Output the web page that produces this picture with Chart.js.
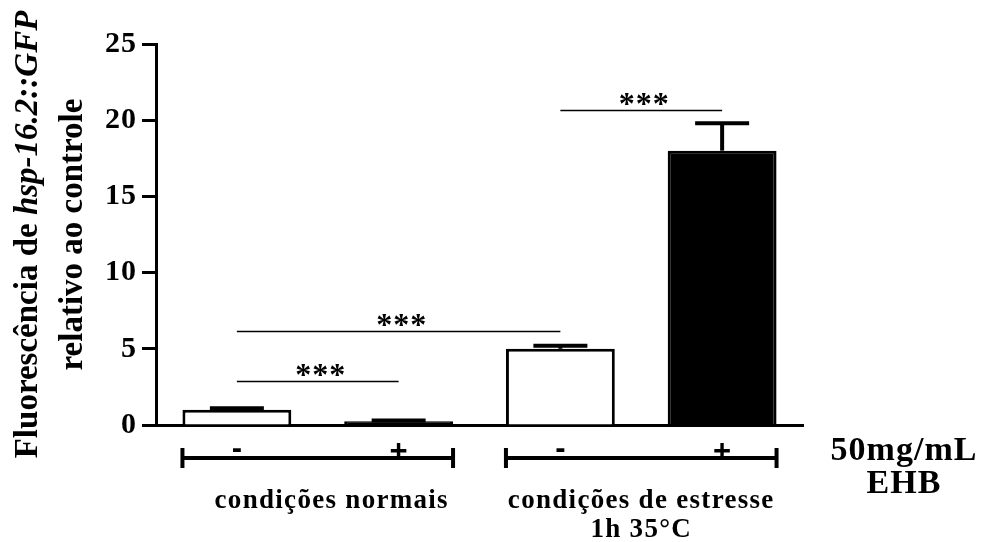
<!DOCTYPE html>
<html>
<head>
<meta charset="utf-8">
<script src="https://cdn.jsdelivr.net/npm/chart.js@4.4.1/dist/chart.umd.min.js"></script>
<style>
  html, body { margin: 0; padding: 0; background: #fff; }
</style>
</head>
<body>
<canvas id="chart" width="984" height="542"></canvas>
<script>
// ── Data ─────────────────────────────────────────────────────────────────────
const categories = ['normais -', 'normais +', 'estresse -', 'estresse +']
const treatment  = ['-', '+', '-', '+']
const means      = [1.0, 0.25, 5.0, 18.0]
const sem        = [0.1, 0.05, 0.2, 1.8]
const fills      = ['#ffffff', '#000000', '#ffffff', '#000000']
const yTicks     = [0, 5, 10, 15, 20, 25]

// significance bars: between two bars, at a given height on the y scale
const comparisons = [
  { from: 0, to: 2, at: 6.2,  label: '***' },
  { from: 0, to: 1, at: 2.9,  label: '***' },
  { from: 2, to: 3, at: 20.7, label: '***' },
]
const groups = [
  { from: 0, to: 1, label: ['condições normais'] },
  { from: 2, to: 3, label: ['condições de estresse', '1h 35°C'] },
]
const doseLabel = ['50mg/mL', 'EHB']
const yTitleStart  = 'Fluorescência de '
const yTitleGene   = 'hsp-16.2::GFP'
const yTitleSecond = 'relativo ao controle'

const SERIF = '"Liberation Serif", "Times New Roman", serif'
const SANS  = '"Liberation Sans", Arial, sans-serif'

// ── Plugins ──────────────────────────────────────────────────────────────────
const tickSpacing = {
  id: 'tickSpacing',
  beforeDraw(chart) { chart.ctx.letterSpacing = '1px' },
}

const annotations = {
  id: 'annotations',
  afterDatasetsDraw(chart) {
    const { ctx, chartArea, scales: { y } } = chart
    const meta = chart.getDatasetMeta(0)
    ctx.save()
    ctx.strokeStyle = '#000'
    ctx.fillStyle = '#000'

    // error bars (upper only)
    meta.data.forEach((el, i) => {
      const yBar = y.getPixelForValue(means[i])
      const yTop = y.getPixelForValue(means[i] + sem[i])
      ctx.lineWidth = 4
      ctx.beginPath()
      ctx.moveTo(el.x, yBar)
      ctx.lineTo(el.x, yTop)
      ctx.stroke()
      ctx.beginPath()
      ctx.moveTo(el.x - 27, yTop)
      ctx.lineTo(el.x + 27, yTop)
      ctx.stroke()
    })

    // significance lines with stars
    ctx.letterSpacing = '1px'
    ctx.font = `bold 32px ${SERIF}`
    ctx.textAlign = 'center'
    comparisons.forEach(c => {
      const x1 = meta.data[c.from].x
      const x2 = meta.data[c.to].x
      const yy = Math.round(y.getPixelForValue(c.at)) + 0.5
      ctx.lineWidth = 1.5
      ctx.beginPath()
      ctx.moveTo(x1, yy)
      ctx.lineTo(x2, yy)
      ctx.stroke()
      const m = ctx.measureText(c.label)
      ctx.fillText(c.label, (x1 + x2) / 2 + 3, yy - 6 - m.actualBoundingBoxDescent)
    })

    // treatment signs
    ctx.letterSpacing = '0px'
    ctx.font = `bold 31px ${SANS}`
    const signY = chartArea.bottom + 25
    meta.data.forEach((el, i) => {
      const m = ctx.measureText(treatment[i])
      const base = signY + (m.actualBoundingBoxAscent - m.actualBoundingBoxDescent) / 2
      ctx.fillText(treatment[i], el.x, base)
    })

    // group brackets and labels
    const brY = chartArea.bottom + 33
    const labelShift = [14, 0]
    groups.forEach((g, gi) => {
      const a = meta.data[g.from]
      const b = meta.data[g.to]
      const left = a.x - a.width / 2
      const right = b.x + b.width / 2
      ctx.lineWidth = 4
      ctx.beginPath()
      ctx.moveTo(left, brY)
      ctx.lineTo(right, brY)
      ctx.moveTo(left, brY - 10)
      ctx.lineTo(left, brY + 10)
      ctx.moveTo(right, brY - 10)
      ctx.lineTo(right, brY + 10)
      ctx.stroke()
      ctx.letterSpacing = '1.3px'
      ctx.font = `bold 27px ${SERIF}`
      g.label.forEach((line, li) => {
        ctx.fillText(line, (left + right) / 2 + labelShift[gi], chartArea.bottom + 83 + li * 29)
      })
    })

    // dose label at the right
    ctx.font = `bold 34px ${SERIF}`
    ctx.letterSpacing = '1px'
    const dx = chartArea.right + 101
    doseLabel.forEach((line, li) => {
      ctx.fillText(line, dx, chartArea.bottom + 35 + li * 33)
    })

    // y title, two rotated lines
    ctx.letterSpacing = '0px'
    const cy = (chartArea.top + chartArea.bottom) / 2
    ctx.font = `bold 33px ${SERIF}`
    const w1 = ctx.measureText(yTitleStart).width
    ctx.font = `italic bold 33px ${SERIF}`
    const w2 = ctx.measureText(yTitleGene).width
    ctx.save()
    ctx.translate(37, cy)
    ctx.rotate(-Math.PI / 2)
    ctx.textAlign = 'left'
    ctx.font = `bold 33px ${SERIF}`
    ctx.fillText(yTitleStart, -(w1 + w2) / 2, 0)
    ctx.font = `italic bold 33px ${SERIF}`
    ctx.fillText(yTitleGene, -(w1 + w2) / 2 + w1, 0)
    ctx.restore()
    ctx.save()
    ctx.translate(82, cy)
    ctx.rotate(-Math.PI / 2)
    ctx.textAlign = 'center'
    ctx.font = `bold 33px ${SERIF}`
    ctx.fillText(yTitleSecond, 0, 0)
    ctx.restore()

    ctx.restore()
  },
}

// ── Chart ────────────────────────────────────────────────────────────────────
new Chart(document.getElementById('chart'), {
  type: 'bar',
  plugins: [tickSpacing, annotations],
  data: {
    labels: categories,
    datasets: [{
      data: means,
      backgroundColor: fills,
      borderColor: '#000',
      borderWidth: 3,
      barPercentage: 0.673,
      categoryPercentage: 1,
    }],
  },
  options: {
    responsive: false,
    animation: false,
    layout: { padding: { left: 0, top: 44, right: 181, bottom: 117 } },
    plugins: { legend: { display: false }, tooltip: { enabled: false } },
    scales: {
      x: {
        ticks: { display: false },
        grid: { display: false },
        border: { display: true, color: '#000', width: 3 },
        afterFit: s => { s.height = 0; s.paddingLeft = 0; s.paddingRight = 0 },
      },
      y: {
        min: 0,
        max: 25,
        afterBuildTicks: s => { s.ticks = yTicks.map(v => ({ value: v })) },
        ticks: {
          color: '#000',
          padding: 5,
          font: { family: SERIF, weight: 'bold', size: 30 },
        },
        grid: {
          display: true,
          drawOnChartArea: false,
          tickLength: 14,
          tickWidth: 3,
          tickColor: '#000',
        },
        border: { display: true, color: '#000', width: 3 },
        afterFit: s => { s.width = 156; s.paddingTop = 0; s.paddingBottom = 0 },
      },
    },
  },
})
</script>
</body>
</html>
